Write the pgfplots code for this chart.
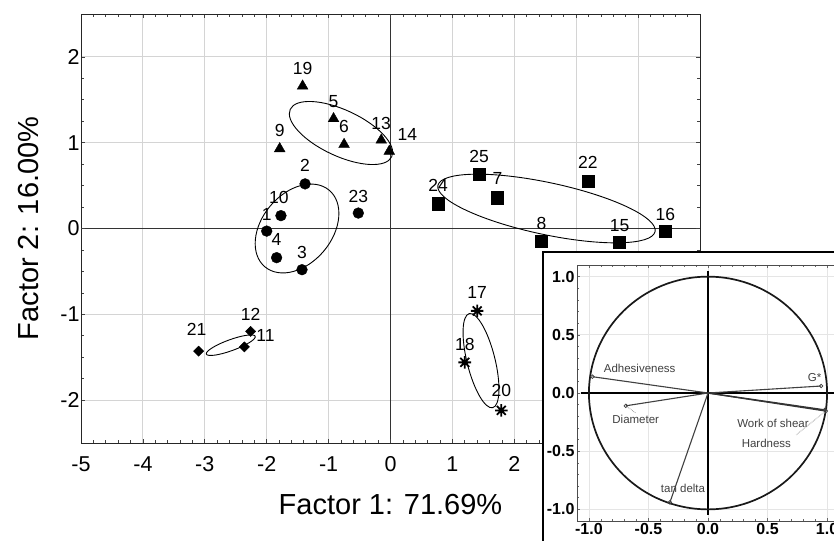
\documentclass[border=0pt]{standalone}
\usepackage{fontspec}
\setmainfont{Liberation Sans}
\usepackage{pgfplots}
\pgfplotsset{compat=1.18}
\usepackage{pgfplotstable}

\pgfdeclareplotmark{ast8}{%
  \pgfpathmoveto{\pgfqpoint{-\pgfplotmarksize}{0pt}}\pgfpathlineto{\pgfqpoint{\pgfplotmarksize}{0pt}}%
  \pgfpathmoveto{\pgfqpoint{0pt}{-\pgfplotmarksize}}\pgfpathlineto{\pgfqpoint{0pt}{\pgfplotmarksize}}%
  \pgfpathmoveto{\pgfqpoint{-0.707\pgfplotmarksize}{-0.707\pgfplotmarksize}}\pgfpathlineto{\pgfqpoint{0.707\pgfplotmarksize}{0.707\pgfplotmarksize}}%
  \pgfpathmoveto{\pgfqpoint{-0.707\pgfplotmarksize}{0.707\pgfplotmarksize}}\pgfpathlineto{\pgfqpoint{0.707\pgfplotmarksize}{-0.707\pgfplotmarksize}}%
  \pgfusepathqstroke}

% group: triangles
\pgfplotstableread{
x y lab dx dy
-1.42 1.66 19 0 18
-0.92 1.28 5 0 17
-0.75 0.98 6 0 18
-0.15 1.03 13 0 17
-0.02 0.90 14 18 17
-1.79 0.93 9 0 18
}\tri
% group: circles
\pgfplotstableread{
x y lab dx dy
-1.38 0.52 2 0 18
-1.77 0.15 10 -2 18
-2.00 -0.03 1 0 17
-1.84 -0.34 4 0 18
-1.43 -0.48 3 0 17
-0.52 0.18 23 0 17
}\cir
% group: squares
\pgfplotstableread{
x y lab dx dy
1.43 0.63 25 0 18
1.73 0.36 7 0 19
0.77 0.29 24 0 18
3.19 0.55 22 0 19
2.44 -0.15 8 0 18
3.70 -0.16 15 0 17
4.44 -0.03 16 0 17
}\squ
% group: diamonds
\pgfplotstableread{
x y lab dx dy
-2.26 -1.20 12 0 17
-2.36 -1.38 11 21 11
-3.10 -1.43 21 -2 22
}\dia
% group: asterisks
\pgfplotstableread{
x y lab dx dy
1.40 -0.96 17 0 18
1.20 -1.56 18 0 18
1.79 -2.12 20 0 20
}\ast

% loadings (inset)
\pgfplotstableread{
x y
-0.97 0.14
0.95 0.06
0.99 -0.155
0.98 -0.145
-0.69 -0.11
-0.32 -0.94
}\load

\pgfplotsset{
  grp/.style={only marks, black,
    point meta=explicit symbolic,
    nodes near coords,
    visualization depends on={\thisrow{dx}\as\dx},
    visualization depends on={\thisrow{dy}\as\dy},
    every node near coord/.append style={anchor=center, inner sep=0pt,
      xshift=\dx pt, yshift=\dy pt, font=\fontsize{17.5}{19}\selectfont, black}},
}

\begin{document}
\begin{tikzpicture}
\path[use as bounding box] (0pt,0pt) rectangle (834pt,-540pt);
\clip (0pt,0pt) rectangle (834pt,-540pt);

\begin{axis}[
  at={(81pt,-443pt)}, anchor=south west,
  scale only axis, width=619pt, height=429pt,
  xmin=-5, xmax=5, ymin=-2.5, ymax=2.5,
  xtick={-5,-4,...,5}, ytick={-2,-1,...,2},
  xticklabels={-5,-4,-3,-2,-1,0,1,2,,,},
  minor x tick num=4, minor y tick num=3,
  tick align=inside, major tick length=4pt, minor tick length=3pt,
  grid=major, major grid style={black!17, line width=1pt},
  axis line style={black!85, line width=1pt},
  tick style={black!75, line width=0.7pt},
  extra x ticks={0}, extra x tick labels={}, extra y ticks={0}, extra y tick labels={},
  extra tick style={grid=major, major grid style={black!80, line width=1.3pt}},
  ticklabel style={font=\fontsize{21.5}{24}\selectfont},
  /pgf/number format/assume math mode=true,
  xticklabel style={yshift=-10pt},
  yticklabel style={xshift=2pt},
  xlabel={Factor 1: 71.69\%}, ylabel={Factor 2: 16.00\%},
  every axis x label/.style={at={(axis description cs:0.5,-0.1445)}, anchor=center, font=\fontsize{29}{33}\selectfont},
  every axis y label/.style={at={(axis description cs:-0.085,0.5)}, anchor=center, rotate=90, font=\fontsize{29}{33}\selectfont},
]
\addplot[grp, mark=triangle*, mark size=6.2pt] table[x=x, y=y, meta=lab] {\tri};
\addplot[grp, mark=*, mark size=5.4pt] table[x=x, y=y, meta=lab] {\cir};
\addplot[grp, mark=square*, mark size=6.1pt] table[x=x, y=y, meta=lab] {\squ};
\addplot[grp, mark=square*, mark size=3.6pt, mark options={rotate=45}] table[x=x, y=y, meta=lab] {\dia};
\addplot[grp, mark=ast8, mark size=6.3pt, mark options={line width=1.8pt}] table[x=x, y=y, meta=lab] {\ast};

% group ellipses
\draw[line width=0.9pt, rotate around={-25:(axis cs:-0.80,1.113)}] (axis cs:-0.80,1.113) ellipse [x radius=56pt, y radius=23pt];
\draw[line width=0.9pt, rotate around={50:(axis cs:-1.51,0.0)}] (axis cs:-1.51,0.0) ellipse [x radius=50pt, y radius=35pt];
\draw[line width=0.9pt, rotate around={-12:(axis cs:2.52,0.233)}] (axis cs:2.52,0.233) ellipse [x radius=111pt, y radius=26pt];
\draw[line width=0.9pt, rotate around={20:(axis cs:-2.58,-1.36)}] (axis cs:-2.58,-1.36) ellipse [x radius=26pt, y radius=5.5pt];
\draw[line width=0.9pt, rotate around={104:(axis cs:1.462,-1.54)}] (axis cs:1.462,-1.54) ellipse [x radius=48.5pt, y radius=14pt];
\end{axis}

% inset frame
\fill[white] (543pt,-252pt) rectangle (900pt,-600pt);
\draw[line width=1.8pt] (543pt,-252pt) rectangle (900pt,-600pt);

\begin{axis}[
  at={(577pt,-521pt)}, anchor=south west,
  scale only axis, width=262pt, height=256pt,
  xmin=-1.1, xmax=1.1, ymin=-1.1, ymax=1.1,
  xtick={-1,-0.5,0,0.5,1}, ytick={-1,-0.5,0,0.5,1},
  minor tick num=4,
  tick align=inside, major tick length=3pt, minor tick length=2pt,
  grid=major, major grid style={black!10, line width=0.7pt},
  axis line style={black!70, line width=0.8pt},
  tick style={black!60, line width=0.5pt},
  ticklabel style={font=\fontsize{16}{18}\selectfont\bfseries},
  /pgf/number format/fixed,
  /pgf/number format/fixed zerofill,
  /pgf/number format/precision=1,
  /pgf/number format/assume math mode=true,
  xticklabel style={yshift=1pt},
  yticklabel style={xshift=1pt},
  clip=false,
]
\draw[line width=1.7pt] (axis cs:0,1.05) -- (axis cs:0,-1.05);
\draw[line width=1.7pt] (axis cs:-1.07,0) -- (axis cs:1.1,0);
\draw[line width=1.7pt, black!90] (axis cs:0,0) circle [x radius=1, y radius=1];
\addplot[black!75, line width=1.1pt] coordinates {(0,0) (-0.97,0.14)};
\addplot[black!75, line width=1.1pt] coordinates {(0,0) (0.95,0.06)};
\addplot[black!80, line width=1.3pt] coordinates {(0,0) (0.99,-0.155)};
\addplot[black!80, line width=1.3pt] coordinates {(0,0) (0.98,-0.145)};
\addplot[black!75, line width=1.1pt] coordinates {(0,0) (-0.69,-0.11)};
\addplot[black!75, line width=1.1pt] coordinates {(0,0) (-0.32,-0.94)};
\addplot[only marks, mark=o, mark size=1.8pt, black!75, mark options={line width=0.7pt}] table[x=x, y=y] {\load};
\draw[densely dotted, black!60, line width=0.6pt] (axis cs:-0.69,-0.11) -- (axis cs:-0.61,-0.17);
\draw[densely dotted, black!60, line width=0.6pt] (axis cs:0.97,-0.17) -- (axis cs:0.74,-0.36);
\begin{scope}[every node/.style={font=\fontsize{11.5}{13}\selectfont, text=black!75, inner sep=0pt}]
\node at (axis cs:-0.574,0.215) {Adhesiveness};
\node at (axis cs:0.895,0.13) {G*};
\node at (axis cs:-0.607,-0.223) {Diameter};
\node at (axis cs:0.546,-0.265) {Work of shear};
\node at (axis cs:0.49,-0.43) {Hardness};
\node at (axis cs:-0.21,-0.82) {tan delta};
\end{scope}
\end{axis}
\end{tikzpicture}
\end{document}
